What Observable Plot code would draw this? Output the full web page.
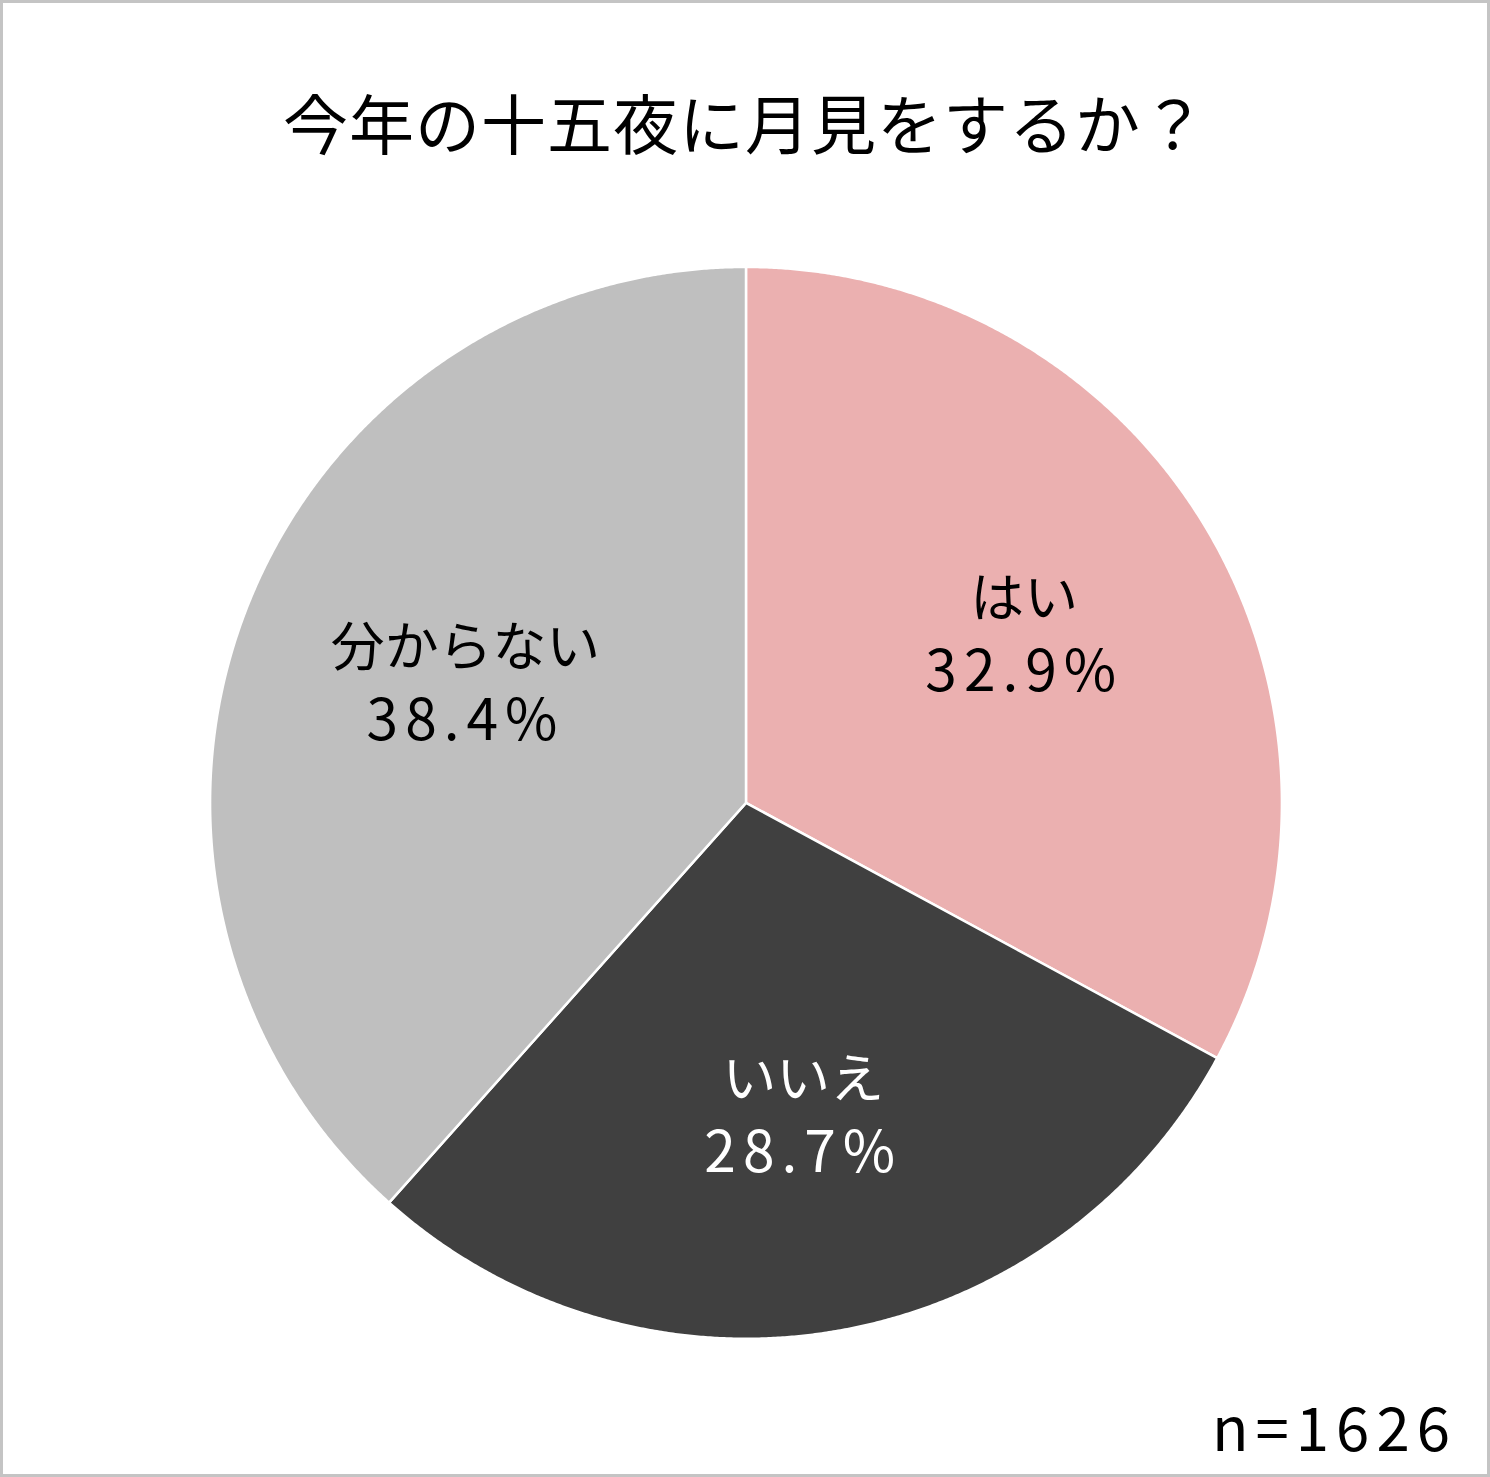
<!DOCTYPE html>
<html>
<head>
<meta charset="utf-8">
<script src="https://cdn.jsdelivr.net/npm/d3@7"></script>
<script src="https://cdn.jsdelivr.net/npm/@observablehq/plot@0.6"></script>
<style>
  html, body { margin: 0; padding: 0; background: #fff; }
  #frame {
    position: relative; width: 1490px; height: 1477px; box-sizing: border-box;
    border: 3px solid #c4c4c4; background: #fff; overflow: hidden;
    font-family: "Noto Sans CJK JP", "Noto Sans", sans-serif;
  }
  #chart { position: absolute; left: -3px; top: -3px; }
  #chart svg text tspan:last-child { font-size: 57px; letter-spacing: 7px; }
  #title {
    position: absolute; left: 0; right: 0; top: 86px; text-align: center;
    font-size: 65px; color: #000; line-height: 1; letter-spacing: 1px;
  }
  #caption {
    position: absolute; right: 30px; top: 1392px; font-size: 60px; color: #000;
    line-height: 1; letter-spacing: 7px;
  }
</style>
</head>
<body>
<div id="frame">
  <div id="chart"></div>
  <div id="title">今年の十五夜に月見をするか？</div>
  <div id="caption">n=1626</div>
</div>
<script>
const categories = ["はい", "いいえ", "分からない"];
const values = [32.9, 28.7, 38.4];
const colors = ["#ebb0b0", "#404040", "#bfbfbf"];
const labelColors = ["#000000", "#ffffff", "#000000"];
const labels = ["はい\n32.9%", "いいえ\n28.7%", "分からない\n38.4%"];

const data = categories.map((c, i) => ({category: c, value: values[i], label: labels[i], labelColor: labelColors[i]}));
const arcs = d3.pie().sort(null).value(d => d.value)(data);

// polygon vertices for each slice (angle measured clockwise from 12 o'clock)
const polys = [];
for (const a of arcs) {
  polys.push({category: a.data.category, x: 0, y: 0});
  const n = Math.max(2, Math.ceil((a.endAngle - a.startAngle) / (Math.PI / 720)));
  for (let k = 0; k <= n; k++) {
    const t = a.startAngle + (a.endAngle - a.startAngle) * k / n;
    polys.push({category: a.data.category, x: Math.sin(t), y: Math.cos(t)});
  }
  polys.push({category: a.data.category, x: 0, y: 0});
}
const labelPts = arcs.map(a => {
  const m = (a.startAngle + a.endAngle) / 2;
  return {category: a.data.category, label: a.data.label, color: a.data.labelColor, x: 0.6 * Math.sin(m), y: 0.6 * Math.cos(m)};
});

const W = 1490, H = 1477, cx = 747, cy = 804, R = 537;
const textOpts = {x: "x", y: "y", text: "label", fill: "color", fontSize: 54, lineHeight: 1.3, textAnchor: "middle", lineAnchor: "middle", dy: -9};
const plot = Plot.plot({
  width: W, height: H,
  margin: 0,
  x: {domain: [-1, 1], range: [cx - R, cx + R], axis: null},
  y: {domain: [-1, 1], range: [cy + R, cy - R], axis: null},
  color: {domain: categories, range: colors},
  style: {background: "transparent", fontFamily: '"Noto Sans CJK JP", "Noto Sans", sans-serif'},
  marks: [
    Plot.line(polys, {x: "x", y: "y", z: "category", fill: "category", stroke: "#ffffff", strokeWidth: 2.5, strokeLinejoin: "round", curve: "linear"}),
    Plot.text(labelPts.filter(d => d.category !== "分からない"), {...textOpts, dx: 2}),
    Plot.text(labelPts.filter(d => d.category === "分からない"), {...textOpts, dx: 20, dy: -10})
  ]
});
document.getElementById("chart").appendChild(plot);
</script>
</body>
</html>
